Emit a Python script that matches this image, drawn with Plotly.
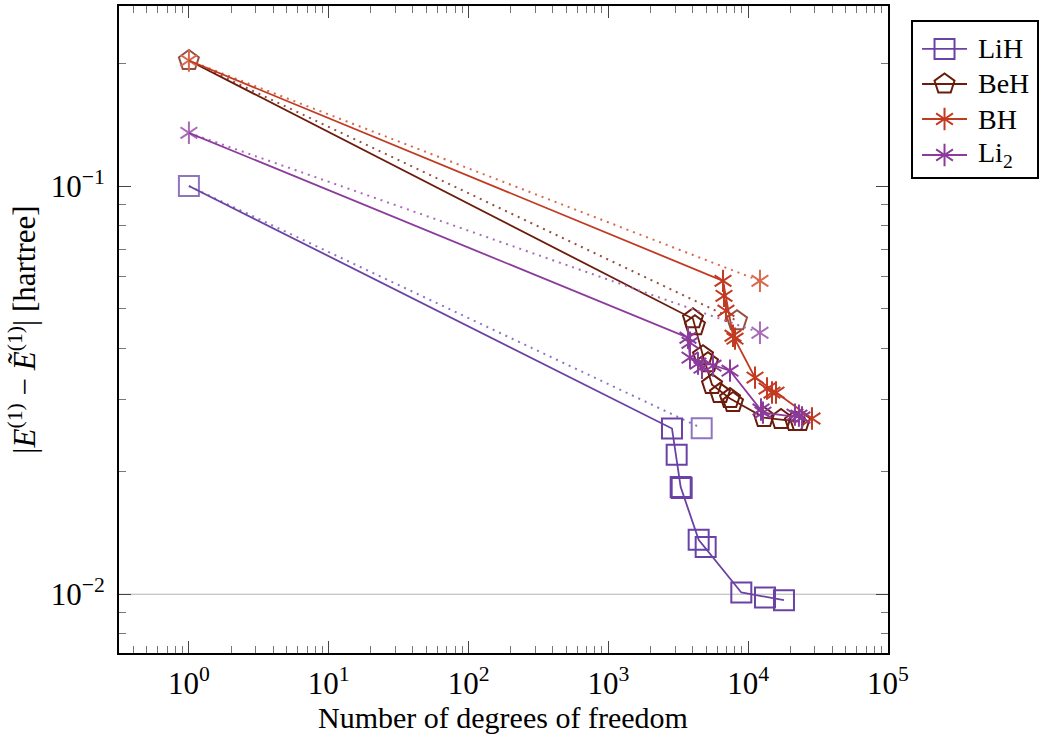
import plotly.graph_objects as go

# ---------------- data ----------------
# LiH
lih_line_x = [1, 2851, 3290, 4425, 8930, 18030]
lih_line_y = [0.1, 0.02547, 0.0183, 0.0136, 0.0101, 0.00967]
lih_pts_x = [2851, 3080, 3290, 3345, 4425, 4965, 8930, 13190, 18030]
lih_pts_y = [0.02547, 0.02196, 0.0183, 0.0182, 0.0136, 0.01305, 0.0101, 0.00982, 0.00967]
lih_dot_x = [1, 4650]
lih_dot_y = [0.1, 0.02551]

# BeH
beh_line_x = [1, 4027, 4750, 5511, 7413, 12970, 17170, 23480]
beh_line_y = [0.203, 0.04728, 0.03841, 0.03262, 0.03015, 0.02709, 0.02679, 0.02649]
beh_pts_x = [4027, 4162, 4750, 5155, 5511, 6285, 7413, 7787, 12970, 17170, 21610, 23480]
beh_pts_y = [0.04728, 0.04546, 0.03841, 0.03692, 0.03262, 0.03101, 0.03015, 0.02948,
             0.02709, 0.02679, 0.02649, 0.02649]
beh_dot_x = [1, 8318]
beh_dot_y = [0.203, 0.04677]

# BH
bh_line_x = [1, 6605, 7787, 11190, 15810, 28600]
bh_line_y = [0.203, 0.05857, 0.04298, 0.03394, 0.03119, 0.02694]
bh_pts_x = [6605, 6714, 6937, 7787, 8050, 11190, 13640, 14800, 15810, 28600]
bh_pts_y = [0.05857, 0.05383, 0.04948, 0.04298, 0.04227, 0.03394, 0.0319, 0.03119,
            0.03119, 0.02694]
bh_dot_x = [1, 12140]
bh_dot_y = [0.203, 0.05857]

# Li2
li2_line_x = [1, 3710, 3836, 7413, 12760, 24270]
li2_line_y = [0.135, 0.0425, 0.03798, 0.03529, 0.02786, 0.02709]
li2_pts_x = [3710, 3836, 3836, 4375, 4674, 5600, 7413, 12350, 12760, 21610, 23060, 24270]
li2_pts_y = [0.0425, 0.04131, 0.03798, 0.03672, 0.03589, 0.0363, 0.03529, 0.02834,
             0.02786, 0.02754, 0.02739, 0.02709]
li2_dot_x = [1, 12140]
li2_dot_y = [0.135, 0.04371]

names = ["LiH", "BeH", "BH", "Li<sub>2</sub>"]

x_tickvals = [1, 10, 100, 1000, 10000, 100000]
x_ticktext = ["10<sup>0</sup>", "10<sup>1</sup>", "10<sup>2</sup>",
              "10<sup>3</sup>", "10<sup>4</sup>", "10<sup>5</sup>"]
y_tickvals = [0.01, 0.1]
y_ticktext = ["10<sup>\u22122</sup>", "10<sup>\u22121</sup>"]
x_title = "Number of degrees of freedom"
y_title = "|<i>E</i><sup>(1)</sup> \u2212 <i>\u1EBC</i><sup>(1)</sup>| [hartree]"

# ---------------- style ----------------
FONT = "Liberation Serif"
FS = 31
col = {"LiH": "#6a42a6", "BeH": "#6b1c0c", "BH": "#c23a22", "Li2": "#8c3a9c"}
light = {"LiH": "#8f74c2", "BeH": "#955040", "BH": "#d8694c", "Li2": "#a96cb8"}

fig = go.Figure()


def add_markers(x, y, c, kind, xa="x", ya="y"):
    if kind == "star":
        for s in ["y-up-open", "y-down-open"]:
            fig.add_trace(go.Scatter(x=x, y=y, mode="markers", xaxis=xa, yaxis=ya,
                                     marker=dict(symbol=s, size=14, color=c,
                                                 line=dict(width=2, color=c)),
                                     showlegend=False, hoverinfo="skip"))
    else:
        sym = "square-open" if kind == "square" else "pentagon-open"
        size = 20 if kind == "square" else 21
        fig.add_trace(go.Scatter(x=x, y=y, mode="markers", xaxis=xa, yaxis=ya,
                                 marker=dict(symbol=sym, size=size, color=c,
                                             line=dict(width=2, color=c)),
                                 showlegend=False, hoverinfo="skip"))


series = [
    ("LiH", "square", lih_line_x, lih_line_y, lih_pts_x, lih_pts_y, lih_dot_x, lih_dot_y),
    ("BeH", "pentagon", beh_line_x, beh_line_y, beh_pts_x, beh_pts_y, beh_dot_x, beh_dot_y),
    ("BH", "star", bh_line_x, bh_line_y, bh_pts_x, bh_pts_y, bh_dot_x, bh_dot_y),
    ("Li2", "star", li2_line_x, li2_line_y, li2_pts_x, li2_pts_y, li2_dot_x, li2_dot_y),
]

for key, kind, lx, ly, px, py, dx, dy in series:
    fig.add_trace(go.Scatter(x=dx, y=dy, mode="lines",
                             line=dict(color=light[key], width=2, dash="2px,5px"),
                             showlegend=False, hoverinfo="skip"))
    add_markers(dx, dy, light[key], kind)
    fig.add_trace(go.Scatter(x=lx, y=ly, mode="lines",
                             line=dict(color=col[key], width=1.8),
                             showlegend=False, hoverinfo="skip"))
    add_markers(px, py, col[key], kind)

# ---------------- manual legend (overlay axes) ----------------
leg_y = [0.826, 0.6, 0.374, 0.142]
for i, (key, kind, *_rest) in enumerate(series):
    fig.add_trace(go.Scatter(x=[0.075, 0.437], y=[leg_y[i], leg_y[i]], mode="lines",
                             xaxis="x2", yaxis="y2",
                             line=dict(color=col[key], width=1.8),
                             showlegend=False, hoverinfo="skip"))
    add_markers([0.256], [leg_y[i]], col[key], kind, xa="x2", ya="y2")
    fig.add_annotation(x=0.51, y=leg_y[i], xref="x2", yref="y2", text=names[i],
                       showarrow=False, xanchor="left", yanchor="middle",
                       font=dict(family=FONT, size=28, color="black"))

# x-axis title as an annotation placed below the tick labels
fig.add_annotation(x=0.5, y=0, xref="x domain", yref="y domain", text=x_title,
                   showarrow=False, xanchor="center", yanchor="middle", yshift=-64,
                   font=dict(family=FONT, size=30, color="black"))

minor_x = [m * 10 ** e for e in range(-1, 5) for m in range(2, 10)]
minor_y = [m * 10 ** e for e in range(-3, 0) for m in range(2, 10)]

fig.add_shape(type="line", xref="x domain", yref="y", x0=0, x1=1, y0=0.01, y1=0.01,
              line=dict(color="#b4b4b4", width=1), layer="below")

fig.update_layout(
    width=1040, height=736,
    margin=dict(l=119, r=3, t=6, b=83, autoexpand=False),
    paper_bgcolor="white", plot_bgcolor="white",
    showlegend=False,
    font=dict(family=FONT, size=FS, color="black"),
    xaxis=dict(type="log", range=[-0.5, 5], domain=[0, 0.83769], automargin=False,
               showline=True, mirror="allticks", linecolor="black", linewidth=2,
               ticks="inside", ticklen=12, tickwidth=1, tickcolor="#444",
               tickmode="array", tickvals=x_tickvals, ticktext=x_ticktext,
               ticklabelstandoff=2,
               minor=dict(ticks="inside", ticklen=7, tickwidth=1, tickcolor="#777",
                          tickmode="array", tickvals=minor_x, showgrid=False),
               showgrid=False, zeroline=False,
               tickfont=dict(family=FONT, size=FS, color="black")),
    yaxis=dict(type="log", range=[-2.144, -0.559], domain=[0, 1], automargin=False,
               showline=True, mirror="allticks", linecolor="black", linewidth=2,
               ticks="inside", ticklen=12, tickwidth=1, tickcolor="#444",
               tickmode="array", tickvals=y_tickvals, ticktext=y_ticktext,
               ticklabelstandoff=6,
               minor=dict(ticks="inside", ticklen=7, tickwidth=1, tickcolor="#777",
                          tickmode="array", tickvals=minor_y, showgrid=False),
               showgrid=False, zeroline=False,
               tickfont=dict(family=FONT, size=FS, color="black"),
               title=dict(text=y_title, standoff=6,
                          font=dict(family=FONT, size=FS, color="black"))),
    xaxis2=dict(domain=[0.8646, 1.0], range=[0, 1], anchor="y2", automargin=False,
                showline=True, mirror=True, linecolor="black", linewidth=1.5,
                showticklabels=False, ticks="", showgrid=False, zeroline=False,
                fixedrange=True),
    yaxis2=dict(domain=[0.7357, 0.9753], range=[0, 1], anchor="x2", automargin=False,
                showline=True, mirror=True, linecolor="black", linewidth=1.5,
                showticklabels=False, ticks="", showgrid=False, zeroline=False,
                fixedrange=True),
)

fig.write_html("out.html")
